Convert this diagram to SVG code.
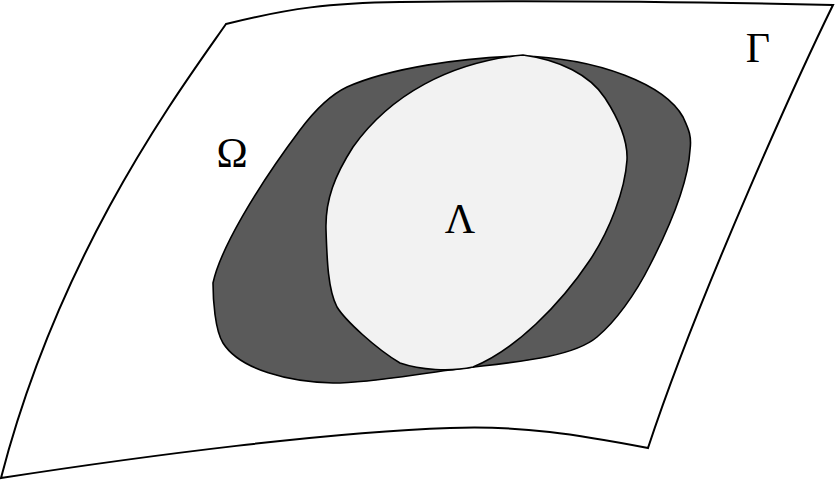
<svg xmlns="http://www.w3.org/2000/svg" width="835" height="482" viewBox="0 0 835 482">
<style>
  .lbl { font-family: "Liberation Serif", "Times New Roman", serif; font-size: 42px; fill: #000; text-anchor: middle; }
  .edge { stroke: #000; stroke-width: 2; stroke-linejoin: miter; fill: #fff; }
  .blob { stroke: #000; stroke-width: 1.6; }
</style>
<rect width="835" height="482" fill="#fff"/>
<g id="gamma">
  <path class="edge" d="M226,24 C290,8 330,3 400,2 C550,0 700,2 833,5 C805,62 700,290 648,448 C580,435 520,425 450,428 C330,432 150,455 1,478 C60,250 180,90 226,24 Z"/>
  <text class="lbl" x="758" y="62">Γ</text>
</g>
<g id="omega">
  <path class="blob" fill="#5a5a5a" d="M520,56 C600,58 665,85 683,117 C688,128 692,135 690,150 C688,185 668,230 650,265 C635,295 615,322 597,337 C570,360 500,363 450,370 C410,375 370,383 333,383 C290,382 240,370 223,343 C215,330 213,300 213,283 C220,250 255,190 300,130 C315,110 330,95 347,87 C390,68 460,58 520,56 Z"/>
  <text class="lbl" x="232" y="167">Ω</text>
</g>
<g id="lambda">
  <path class="blob" fill="#f2f2f2" d="M523,55 C560,60 590,75 605,98 C618,118 628,140 627,160 C625,190 610,230 590,260 C560,305 515,350 473,367 C450,372 420,370 400,363 C375,348 345,320 337,307 C328,290 327,260 326,230 C325,200 335,175 353,147 C390,95 450,62 523,55 Z"/>
  <text class="lbl" x="460" y="233">Λ</text>
</g>
</svg>
